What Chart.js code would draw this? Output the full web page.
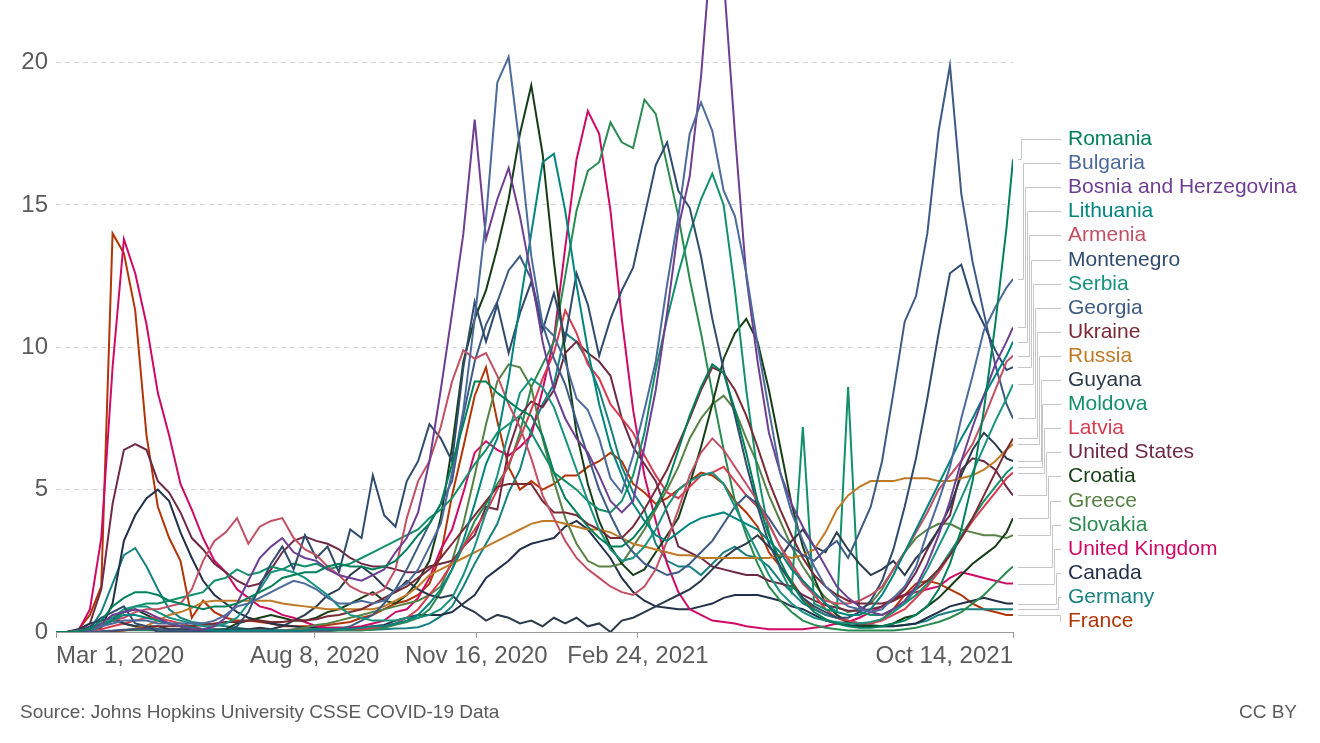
<!DOCTYPE html>
<html>
<head>
<meta charset="utf-8">
<script src="https://cdn.jsdelivr.net/npm/chart.js@4.4.1/dist/chart.umd.min.js"></script>
<style>
  html, body { margin: 0; padding: 0; background: #ffffff; }
  canvas { display: block; }
</style>
</head>
<body>
<canvas id="c" width="1320" height="743"></canvas>
<script>
// ---- Categories: weekly observations starting Mar 1, 2020 (day offsets), last point Oct 14, 2021 ----
const startLabel = 'Mar 1, 2020';
const weeklyStep = 7;
const lastDay = 592;
const dayOffsets = Array.from({length: 85}, (_, i) => i * weeklyStep).concat([lastDay]);

// ---- Axis ticks ----
const xTickDays = [0, 160, 260, 360, 592];
const xTickLabels = ['Mar 1, 2020', 'Aug 8, 2020', 'Nov 16, 2020', 'Feb 24, 2021', 'Oct 14, 2021'];
const yTickValues = [0, 5, 10, 15, 20];

// ---- Series: daily new confirmed COVID-19 deaths per million (7-day avg), read weekly ----
const romania = [0,0,0.02,0.1,0.4,0.9,1.2,1.4,1.4,1.3,
  1.1,1.0,0.9,0.8,0.9,0.9,1.0,1.2,1.4,1.6,
  1.9,2.0,2.1,2.1,2.3,2.4,2.3,2.3,2.2,2.3,
  2.5,2.9,3.4,3.8,4.5,5.9,7.3,8.8,8.8,8.4,
  8.1,7.8,7.6,6.9,5.6,4.7,4.2,3.7,3.3,3.0,
  3.0,3.3,3.8,4.4,5.2,6.4,7.6,8.6,9.4,9.1,
  7.8,6.3,4.6,3.4,2.5,1.7,1.1,0.7,0.45,0.3,
  0.2,0.15,0.15,0.2,0.3,0.4,0.6,0.9,1.5,2.4,
  3.6,5.3,7.8,10.8,14.2,16.6];
const bulgaria = [0,0,0.05,0.1,0.2,0.3,0.4,0.4,0.4,0.3,
  0.3,0.3,0.3,0.3,0.4,0.6,0.9,1.0,1.2,1.4,
  1.6,1.8,1.7,1.5,1.2,1.0,1.0,1.1,1.0,1.1,
  1.5,1.7,2.2,3.0,3.8,5.6,7.8,11.0,14.5,19.3,
  20.2,17.0,13.2,10.8,10.4,9.5,8.2,7.8,6.8,5.4,
  4.9,6.2,7.8,9.5,12.2,14.6,17.5,18.6,17.6,15.5,
  14.6,12.6,10.1,7.8,5.6,4.2,3.2,2.3,1.6,1.2,
  0.9,0.8,0.7,0.8,1.2,1.6,2.3,3.5,4.6,5.8,
  7.5,9.0,10.6,11.4,12.1,12.4];
const bosnia = [0,0,0,0.05,0.3,0.6,0.7,0.8,0.7,0.5,
  0.3,0.2,0.1,0.1,0.2,0.5,1.0,1.8,2.6,3.0,
  3.3,2.8,2.6,2.5,2.2,2.0,1.9,1.8,2.0,2.2,
  2.8,3.3,4.2,6.0,8.5,11.2,14.0,18.0,13.8,15.2,
  16.3,14.6,12.5,10.2,8.5,7.5,6.8,6.3,5.5,4.6,
  4.2,4.6,6.5,8.5,11.2,14.2,16.0,19.5,24.5,23.0,
  17.5,12.5,9.5,7.0,5.6,4.5,3.7,3.0,2.3,1.6,
  1.2,0.9,0.7,0.6,0.8,1.1,1.6,2.4,3.4,4.6,
  6.0,7.2,8.3,9.4,10.2,10.7];
const lithuania = [0,0,0,0.05,0.2,0.4,0.6,0.6,0.5,0.4,
  0.3,0.2,0.15,0.1,0.05,0.05,0.05,0.05,0.05,0.05,
  0.05,0.05,0.05,0.1,0.1,0.1,0.1,0.15,0.2,0.2,
  0.3,0.4,0.6,1.0,1.5,2.2,3.2,4.5,5.9,6.8,
  8.9,11.5,14.0,16.5,16.8,14.8,12.2,9.9,8.0,6.5,
  5.5,4.5,3.9,3.4,3.2,3.5,3.8,4.0,4.1,4.2,
  4.0,3.8,3.6,3.2,2.8,2.2,1.8,1.4,1.0,0.7,
  0.6,0.6,0.8,1.3,2.0,2.8,3.6,4.4,5.2,6.0,
  6.8,7.5,8.3,9.0,9.7,10.2];
const armenia = [0,0,0,0.05,0.2,0.4,0.5,0.7,0.8,0.8,
  0.9,1.0,1.5,2.5,3.2,3.5,4.0,3.1,3.7,3.9,
  4.0,3.3,2.9,2.7,2.3,2.0,1.6,1.4,1.3,1.5,
  2.2,4.0,5.3,6.0,7.2,8.8,9.9,9.6,9.8,9.0,
  8.0,7.2,6.1,4.8,4.0,3.2,2.6,2.2,1.9,1.6,
  1.4,1.3,1.6,2.2,3.2,4.3,5.5,6.3,6.8,6.4,
  5.8,5.2,4.6,3.8,3.0,2.3,1.7,1.3,1.1,1.0,
  1.0,1.1,1.3,1.6,2.2,2.8,3.5,4.2,5.0,5.5,
  6.0,6.6,7.5,8.5,9.5,9.7];
const montenegro = [0,0,0,0.2,0.5,0.7,0.9,0.3,0.2,0,
  0,0,0,0,0,0,0.2,0.7,1.6,2.4,
  3.0,2.2,3.4,2.6,3.0,2.1,3.6,3.3,5.5,4.1,
  3.7,5.3,6.0,7.3,6.8,6.0,9.3,11.6,10.2,11.5,
  9.8,11.2,12.3,10.6,11.9,10.3,12.6,11.5,9.7,11.0,
  12.0,12.8,14.6,16.4,17.2,15.5,14.9,13.2,11.0,9.2,
  7.6,5.9,4.4,3.1,2.3,1.7,1.2,0.9,0.7,0.5,
  0.5,0.7,1.1,1.8,2.9,4.4,6.1,8.2,10.5,12.6,
  12.9,11.6,10.8,9.9,9.2,9.3];
const serbia = [0,0,0,0.05,0.2,0.5,0.8,0.9,0.9,0.7,
  0.5,0.4,0.3,0.2,0.2,0.3,0.5,1.0,1.5,2.1,
  2.2,2.1,1.9,1.6,1.3,0.9,0.6,0.5,0.4,0.4,
  0.4,0.5,0.5,0.6,0.8,1.2,2.0,3.0,4.2,5.5,
  7.0,8.4,8.9,8.6,7.9,6.8,5.7,4.6,3.6,2.9,
  2.5,2.6,3.0,3.6,4.4,5.0,5.3,5.5,5.6,5.2,
  4.4,3.6,2.8,2.0,1.4,1.0,0.7,0.5,0.4,0.35,
  0.3,0.3,0.35,0.45,0.7,1.0,1.5,2.2,3.0,3.8,
  4.7,5.6,6.5,7.4,8.2,8.7];
const georgia = [0,0,0,0,0.03,0.05,0.08,0.1,0.1,0.1,
  0.05,0.05,0.03,0.03,0.03,0.03,0.03,0.03,0.03,0.03,
  0.03,0.03,0.05,0.05,0.05,0.1,0.2,0.4,0.6,1.0,
  1.5,2.2,3.0,3.8,4.5,5.3,7.6,9.5,10.8,11.6,
  12.7,13.2,12.4,10.8,9.6,8.7,7.4,6.2,5.0,4.1,
  3.3,2.8,2.4,2.2,2.0,2.1,2.4,2.8,3.2,3.8,
  4.4,4.8,4.5,4.0,3.4,3.0,2.7,2.5,2.9,3.2,
  2.6,3.5,4.4,6.0,8.4,10.9,11.8,14.0,17.6,19.9,
  15.4,13.0,11.2,9.4,8.0,7.5];
const ukraine = [0,0,0,0,0.01,0.03,0.06,0.1,0.15,0.2,
  0.2,0.2,0.2,0.25,0.3,0.35,0.35,0.4,0.4,0.35,
  0.35,0.4,0.4,0.45,0.55,0.6,0.7,0.8,1.0,1.2,
  1.4,1.6,1.9,2.2,2.6,3.1,3.6,4.1,4.6,5.1,
  5.2,5.2,5.2,4.6,4.2,4.2,4.1,3.8,3.6,3.3,
  3.3,3.7,4.3,5.0,5.7,6.6,7.5,8.5,9.3,9.1,
  8.5,7.6,6.5,5.3,4.3,3.4,2.6,2.0,1.6,1.3,
  1.1,1.0,1.0,1.0,1.1,1.3,1.5,1.8,2.2,2.7,
  3.3,4.0,4.8,5.6,6.4,6.8];
const russia = [0,0,0,0,0.01,0.02,0.05,0.12,0.22,0.4,
  0.6,0.7,0.85,1.05,1.1,1.1,1.1,1.1,1.1,1.1,
  1.0,0.95,0.9,0.85,0.8,0.8,0.8,0.8,0.8,0.9,
  1.1,1.3,1.6,2.0,2.2,2.4,2.6,2.8,3.0,3.2,
  3.4,3.6,3.8,3.9,3.9,3.8,3.7,3.6,3.6,3.5,
  3.3,3.1,3.0,2.9,2.8,2.7,2.7,2.6,2.6,2.6,
  2.6,2.6,2.6,2.6,2.7,2.6,2.7,2.9,3.5,4.3,
  4.8,5.1,5.3,5.3,5.3,5.4,5.4,5.4,5.3,5.3,
  5.4,5.5,5.7,6.0,6.4,6.6];
const guyana = [0,0,0.1,0.3,0.4,0.5,0.3,0.2,0.2,0.2,
  0.1,0.1,0.1,0.1,0.1,0.1,0.1,0.1,0.15,0.1,
  0.2,0.4,0.6,0.9,1.3,1.5,2.0,2.3,2.0,1.6,
  1.4,1.8,1.5,1.3,1.2,1.3,0.9,0.7,0.4,0.6,
  0.5,0.3,0.4,0.2,0.5,0.3,0.5,0.2,0.3,0.0,
  0.4,0.5,0.7,0.9,1.1,1.3,1.5,1.8,2.2,2.6,
  2.9,3.1,3.4,3.0,2.6,3.2,3.6,3.0,2.8,3.5,
  2.9,2.4,2.0,2.2,2.5,2.0,2.6,3.0,3.6,4.4,
  5.5,6.4,7.0,6.6,6.1,6.0];
const moldova = [0,0,0,0.05,0.2,0.4,0.7,0.9,1.0,1.0,
  1.1,1.2,1.3,1.4,1.8,1.9,2.2,2.0,2.1,2.3,
  2.2,2.4,2.3,2.4,2.2,2.3,2.4,2.6,2.8,3.0,
  3.2,3.4,3.6,4.0,4.3,4.7,5.3,5.9,6.4,7.0,
  7.3,7.6,7.0,6.3,5.6,5.3,5.0,4.6,4.3,4.2,
  4.6,5.5,7.0,9.2,11.0,12.6,14.0,15.2,16.1,15.0,
  12.0,8.5,5.6,3.5,2.2,1.4,7.2,1.0,0.8,0.7,
  8.6,0.7,0.6,0.6,0.8,1.0,1.3,1.7,2.2,2.8,
  3.4,4.0,4.6,5.1,5.6,5.8];
const latvia = [0,0,0,0.05,0.1,0.2,0.3,0.4,0.5,0.5,
  0.4,0.3,0.2,0.1,0.05,0.05,0.05,0.05,0.05,0.05,
  0.05,0.05,0.05,0.05,0.05,0.1,0.1,0.1,0.15,0.2,
  0.3,0.5,0.8,1.3,1.8,2.4,3.0,3.6,4.2,5.0,
  5.9,6.8,7.8,8.9,9.8,11.3,10.5,9.4,8.9,8.0,
  7.5,7.0,6.2,5.5,4.9,4.7,5.1,5.5,5.6,5.8,
  5.3,4.8,4.4,3.8,3.0,2.4,1.8,1.3,0.8,0.5,
  0.4,0.3,0.3,0.4,0.6,0.8,1.2,1.6,2.1,2.7,
  3.3,3.9,4.4,4.9,5.4,5.6];
const unitedStates = [0,0.01,0.03,0.3,1.5,4.5,6.4,6.6,6.4,5.3,
  4.9,4.2,3.3,2.9,2.4,2.1,1.8,1.6,1.7,2.2,
  2.8,3.2,3.35,3.2,3.1,2.9,2.6,2.4,2.3,2.3,
  2.2,2.1,2.1,2.3,2.4,2.5,3.0,3.4,4.4,4.3,
  6.4,7.6,8.1,7.9,8.5,9.8,10.2,9.8,9.5,9.0,
  7.5,6.5,5.9,5.3,4.2,3.0,2.8,2.6,2.3,2.2,
  2.1,2.0,2.0,1.8,1.7,1.6,1.3,1.1,0.95,0.85,
  0.75,0.75,0.8,0.9,1.1,1.5,2.1,2.9,3.6,4.1,
  5.7,6.1,6.0,5.7,5.1,4.8];
const croatia = [0,0,0,0.03,0.2,0.5,0.7,0.8,0.6,0.4,
  0.3,0.2,0.1,0.05,0.05,0.1,0.3,0.4,0.5,0.6,
  0.5,0.4,0.4,0.5,0.7,0.8,1.0,1.2,1.4,1.1,
  1.0,1.3,1.8,2.5,4.0,6.5,9.5,11.0,12.0,13.5,
  15.2,17.5,19.2,16.8,13.0,9.8,7.0,5.2,3.9,3.0,
  2.4,2.0,2.2,2.8,3.4,4.0,5.2,6.5,8.0,9.6,
  10.5,11.0,10.2,8.5,6.5,4.5,3.0,1.9,1.0,0.6,
  0.35,0.25,0.2,0.2,0.3,0.5,0.6,0.9,1.2,1.6,
  2.0,2.4,2.7,3.0,3.5,4.0];
const greece = [0,0,0.01,0.1,0.3,0.4,0.3,0.2,0.15,0.1,
  0.1,0.1,0.05,0.05,0.05,0.05,0.05,0.05,0.05,0.05,
  0.05,0.1,0.15,0.25,0.3,0.4,0.5,0.6,0.7,0.8,
  0.9,1.0,1.1,1.3,1.6,2.5,3.8,5.5,7.3,8.8,
  9.4,9.3,8.6,6.8,5.3,4.0,3.1,2.5,2.3,2.3,
  2.4,3.0,3.6,4.3,5.0,5.8,6.8,7.5,8.0,8.3,
  7.8,6.8,5.9,4.8,3.9,3.0,2.3,1.7,1.2,0.9,
  0.7,0.8,1.0,1.5,2.2,2.8,3.3,3.6,3.8,3.8,
  3.6,3.5,3.4,3.4,3.3,3.4];
const slovakia = [0,0,0,0,0.01,0.03,0.05,0.07,0.06,0.05,
  0.03,0.02,0.02,0.02,0.01,0.01,0.01,0.02,0.02,0.02,
  0.02,0.02,0.02,0.02,0.03,0.05,0.05,0.05,0.1,0.15,
  0.25,0.35,0.5,0.8,1.4,2.2,3.0,3.9,4.5,5.2,
  5.8,7.0,8.6,9.4,10.2,12.5,14.8,16.2,16.5,17.9,
  17.2,17.0,18.7,18.2,16.4,14.6,12.4,10.5,8.4,6.4,
  4.6,3.4,2.4,1.6,1.1,0.7,0.4,0.25,0.15,0.1,
  0.05,0.05,0.05,0.05,0.05,0.1,0.15,0.25,0.35,0.5,
  0.7,1.0,1.3,1.7,2.1,2.3];
const unitedKingdom = [0,0,0.05,0.8,3.3,9.3,13.8,12.6,10.8,8.4,
  6.9,5.2,4.3,3.3,2.5,2.1,1.5,1.2,0.9,0.8,
  0.6,0.5,0.35,0.2,0.15,0.15,0.15,0.2,0.3,0.4,
  0.7,0.8,1.2,1.9,2.9,3.6,4.9,6.3,6.7,6.4,
  6.2,6.5,6.9,8.5,10.3,13.5,16.6,18.3,17.5,14.8,
  11.0,7.8,5.5,3.9,2.4,1.4,0.8,0.6,0.4,0.35,
  0.3,0.2,0.15,0.1,0.1,0.1,0.1,0.15,0.2,0.3,
  0.35,0.5,0.7,0.9,1.2,1.3,1.4,1.5,1.6,1.9,
  2.1,2.0,1.9,1.8,1.7,1.7];
const canada = [0,0,0,0.02,0.15,1.0,3.2,4.1,4.7,5.0,
  4.6,3.5,2.6,1.8,1.3,1.0,0.7,0.5,0.4,0.3,
  0.25,0.2,0.15,0.15,0.15,0.15,0.15,0.15,0.2,0.25,
  0.4,0.5,0.6,0.6,0.6,0.7,1.0,1.3,1.9,2.2,
  2.5,2.9,3.1,3.2,3.3,3.7,3.9,3.6,3.1,2.6,
  1.9,1.4,1.1,0.9,0.85,0.8,0.8,0.9,1.0,1.2,
  1.3,1.3,1.3,1.2,1.1,0.9,0.8,0.6,0.4,0.3,
  0.25,0.2,0.2,0.2,0.2,0.25,0.3,0.5,0.7,0.9,
  1.0,1.1,1.2,1.1,1.0,1.0];
const germany = [0,0,0.01,0.1,0.7,1.7,2.7,2.95,2.3,1.5,
  0.8,0.5,0.35,0.3,0.25,0.2,0.15,0.1,0.08,0.06,
  0.05,0.05,0.05,0.06,0.06,0.07,0.07,0.07,0.08,0.1,
  0.12,0.13,0.17,0.3,0.55,0.9,1.6,2.4,3.1,3.8,
  4.9,5.7,7.1,8.0,8.7,10.5,10.2,9.5,8.5,7.2,
  5.8,4.9,4.3,3.1,2.5,2.3,2.3,2.0,2.4,2.8,
  3.0,2.7,2.6,2.3,1.8,1.4,1.0,0.8,0.6,0.5,
  0.4,0.3,0.25,0.2,0.2,0.25,0.3,0.4,0.6,0.7,
  0.8,0.8,0.8,0.8,0.8,0.8];
const france = [0,0.01,0.1,0.6,1.6,14.0,13.3,11.3,6.9,4.4,
  3.3,2.5,0.5,1.1,0.7,0.5,0.4,0.4,0.35,0.3,
  0.2,0.2,0.2,0.2,0.25,0.3,0.35,0.5,0.6,0.8,
  1.0,1.1,1.3,1.7,2.7,4.8,6.5,8.3,9.3,7.4,
  5.8,5.0,5.3,5.0,5.2,5.5,5.5,5.8,6.0,6.3,
  6.0,5.2,4.9,4.5,4.7,5.0,5.3,5.6,5.5,5.2,
  4.6,4.2,3.7,2.8,2.3,1.8,1.2,0.8,0.6,0.5,
  0.35,0.3,0.3,0.45,0.8,1.3,1.7,1.8,1.7,1.5,
  1.3,1.0,0.8,0.7,0.6,0.6];

// ---- Legend order (as shown at the right, top to bottom) ----
const countryNames = ['Romania','Bulgaria','Bosnia and Herzegovina','Lithuania','Armenia','Montenegro',
  'Serbia','Georgia','Ukraine','Russia','Guyana','Moldova','Latvia','United States','Croatia',
  'Greece','Slovakia','United Kingdom','Canada','Germany','France'];
const countryValues = [romania, bulgaria, bosnia, lithuania, armenia, montenegro, serbia, georgia,
  ukraine, russia, guyana, moldova, latvia, unitedStates, croatia, greece, slovakia,
  unitedKingdom, canada, germany, france];
const countryColors = ['#00805a','#4c6a9c','#6d3e91','#00847e','#c15065','#2f4b6e',
  '#17937f','#3d5a84','#7a2a35','#c07a26','#2b3a4a','#12906a','#d73c50','#6e2a45','#173d17',
  '#578145','#2a8a50','#cf0a66','#22304a','#188080','#b13507'];

const FONT = '"Liberation Sans", Arial, Helvetica, sans-serif';
const TEXT_GREY = '#5b5b5b';

const datasets = countryNames.map((name, i) => ({
  label: name,
  data: dayOffsets.map((d, j) => ({x: d, y: countryValues[i][j]})),
  borderColor: countryColors[i],
  backgroundColor: countryColors[i],
  borderWidth: 2,
  pointRadius: 0,
  tension: 0,
  fill: false
}));

const endLabels = {
  id: 'endLabels',
  afterDraw(chart) {
    const {ctx, scales: {x, y}} = chart;
    const xEnd = x.getPixelForValue(lastDay);
    ctx.save();
    chart.data.datasets.forEach((ds, i) => {
      const lastVal = ds.data[ds.data.length - 1].y;
      const yEnd = Math.round(y.getPixelForValue(lastVal)) + 0.5;
      const yLab = Math.round(139 + i * 24.1) + 0.5;
      const bend = Math.round(1021 + i * 1.95) + 0.5;
      ctx.strokeStyle = '#c6c6c6';
      ctx.lineWidth = 1;
      ctx.beginPath();
      ctx.moveTo(xEnd + 5, yEnd);
      ctx.lineTo(bend, yEnd);
      ctx.lineTo(bend, yLab);
      ctx.lineTo(1061, yLab);
      ctx.stroke();
      ctx.fillStyle = ds.borderColor;
      ctx.font = '21px ' + FONT;
      ctx.textBaseline = 'middle';
      ctx.textAlign = 'left';
      ctx.fillText(ds.label, 1068, yLab);
    });
    ctx.fillStyle = TEXT_GREY;
    ctx.font = '19px ' + FONT;
    ctx.textBaseline = 'middle';
    ctx.textAlign = 'left';
    ctx.fillText('Source: Johns Hopkins University CSSE COVID-19 Data', 20, 713);
    ctx.textAlign = 'right';
    ctx.fillText('CC BY', 1297, 713);
    ctx.restore();
  }
};

new Chart(document.getElementById('c'), {
  type: 'line',
  data: { datasets },
  plugins: [endLabels],
  options: {
    responsive: false,
    animation: false,
    devicePixelRatio: 1,
    layout: { padding: { left: 0, right: 307, top: 0, bottom: 0 } },
    plugins: { legend: { display: false }, tooltip: { enabled: false } },
    scales: {
      x: {
        type: 'linear',
        min: 0,
        max: lastDay,
        afterBuildTicks: (s) => { s.ticks = xTickDays.map(v => ({value: v})); },
        afterFit: (s) => { s.height = 111; s.paddingLeft = 0; s.paddingRight = 0; },
        ticks: {
          autoSkip: false,
          maxRotation: 0,
          align: 'inner',
          padding: 4,
          color: TEXT_GREY,
          font: { family: FONT, size: 24 },
          callback: (v) => { const k = xTickDays.indexOf(v); return k >= 0 ? xTickLabels[k] : ''; }
        },
        grid: { display: true, drawOnChartArea: false, drawTicks: true, tickLength: 6, color: '#9a9a9a' },
        border: { display: true, color: '#9a9a9a', width: 1 }
      },
      y: {
        min: 0,
        max: 22.2,
        afterBuildTicks: (s) => { s.ticks = yTickValues.map(v => ({value: v})); },
        afterFit: (s) => { s.width = 56; s.paddingTop = 0; s.paddingBottom = 0; },
        ticks: {
          padding: 8,
          color: TEXT_GREY,
          font: { family: FONT, size: 24 },
          callback: (v) => String(v)
        },
        grid: {
          drawTicks: false,
          lineWidth: 1,
          color: (c) => (c.tick && c.tick.value === 0) ? 'rgba(0,0,0,0)' : '#d6d6d6'
        },
        border: { display: false, dash: [5, 4] }
      }
    }
  }
});
</script>
</body>
</html>
